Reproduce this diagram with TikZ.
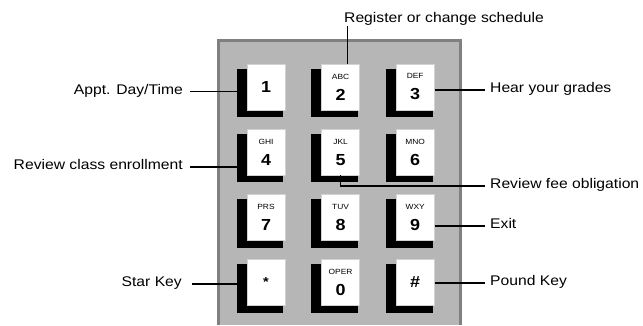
\documentclass[tikz,border=0pt]{standalone}
\usepackage{fontspec}
\setmainfont{Liberation Sans}[FakeStretch=1.12]
\usetikzlibrary{positioning}
\usetikzlibrary{backgrounds}
\definecolor{panelgray}{RGB}{182,182,182}
\definecolor{edgegray}{RGB}{128,128,128}
\tikzset{key node/.style={shape=rectangle,
    draw=gray!35, line width=.6pt, fill=white, align=center,
    minimum width=38pt, minimum height=46pt, inner sep=0pt},
  label node/.style={inner sep=0pt, font=\fontsize{14}{16}\selectfont},
  call line/.style={draw, line width=1.6pt}}
\newcommand{\keytext}[2]{{\fontsize{7.5}{8}\selectfont #1}\\[9pt]{\bfseries\fontsize{16}{17}\selectfont #2}}
\newcommand{\keydigit}[1]{{\bfseries\fontsize{16}{17}\selectfont #1}}

\begin{document}
\begin{tikzpicture}[x=1pt,y=-1pt]
    \useasboundingbox (0,0) rectangle (643,325);

    \node[key node] (1) at (266,87) {\keydigit{1}};
    \node[key node] (2) [right = 36pt of 1] {\keytext{ABC}{2}};
    \node[key node] (3) [right = 36pt of 2] {\keytext{DEF}{3}};

    \node[key node] (4) [below = 18.5pt of 1] {\keytext{GHI}{4}};
    \node[key node] (5) [right = 36pt of 4] {\keytext{JKL}{5}};
    \node[key node] (6) [right = 36pt of 5] {\keytext{MNO}{6}};

    \node[key node] (7) [below = 18.5pt of 4] {\keytext{PRS}{7}};
    \node[key node] (8) [right = 36pt of 7] {\keytext{TUV}{8}};
    \node[key node] (9) [right = 36pt of 8] {\keytext{WXY}{9}};

    \node[key node] (star) [below = 18.5pt of 7] {\raisebox{-3pt}{\bfseries\fontsize{13}{13}\selectfont *}};
    \node[key node] (0) [right = 36pt of star] {\keytext{OPER}{0}};
    \node[key node] (pound) [right = 36pt of 0] {\keydigit{\#}};

    % panel and key shadows go behind
    \begin{scope}[on background layer]
        \fill[panelgray] (217,39) rectangle (462,325);
        \draw[edgegray, line width=3pt] (218.5,325) -- (218.5,40.5) -- (460.5,40.5) -- (460.5,325);
        \foreach \k in {1,2,3,4,5,6,7,8,9,star,0,pound}
            \fill ([shift={(-10pt,-5pt)}]\k.north west) rectangle ([shift={(-2pt,-7pt)}]\k.south east);
    \end{scope}

    \node[label node, anchor=south west] (reg) at (344,26) {Register or change schedule};
    \node[label node, anchor=mid east] (appt) at (183,91.5) {Appt. Day/Time};
    \node[label node, anchor=mid east] (enroll) at (183,167) {Review class enrollment};
    \node[label node, anchor=mid east] (starkey) at (182,284) {Star Key};
    \node[label node, anchor=mid west] (grades) at (490,90) {Hear your grades};
    \node[label node, anchor=mid west] (fee) at (490,186) {Review fee obligation};
    \node[label node, anchor=mid west] (exit) at (490,226) {Exit};
    \node[label node, anchor=mid west] (poundkey) at (490,283) {Pound Key};

    \path[call line]
    ([xshift=7pt]2.north) edge ([xshift=7pt]2.north |- reg.south)
    (appt.mid east) edge[shorten <=7pt, shorten >=8pt] (appt.mid east -| 1.west)
    (enroll.mid east) edge[shorten <=7pt, shorten >=8pt] (enroll.mid east -| 4.west)
    (starkey.mid east) edge[shorten <=10pt, shorten >=2pt] (starkey.mid east -| star.west)
    (grades.mid west -| 3.east) edge[shorten >=5pt] (grades.mid west)
    (exit.mid west -| 9.east) edge[shorten >=5pt] (exit.mid west)
    (poundkey.mid west -| pound.east) edge[shorten >=5pt] (poundkey.mid west)
    ;
    \draw[call line, shorten >=5pt] (5.south) -- (5.south |- fee.mid west) -- (fee.mid west);
\end{tikzpicture}
\end{document}
